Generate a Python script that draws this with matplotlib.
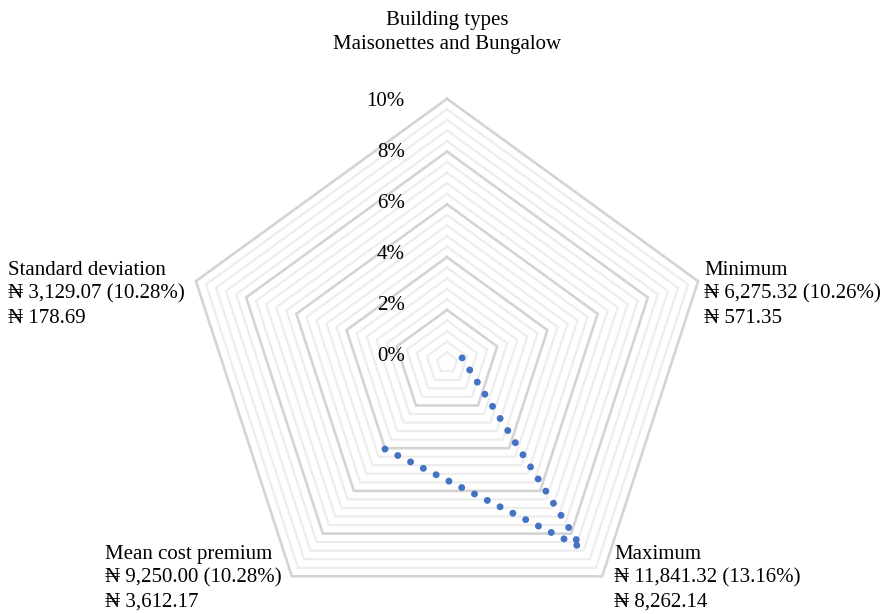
import numpy as np
import matplotlib
matplotlib.use("Agg")
import matplotlib.pyplot as plt

# ---- data ----
categories = ["Building types", "Minimum", "Maximum", "Mean cost premium", "Standard deviation"]
values = [np.nan, 0.60, 8.65, 4.03, np.nan]          # percent
major_ticks = [0, 2, 4, 6, 8, 10]
tick_labels = ["0%", "2%", "4%", "6%", "8%", "10%"]
minor_step = 0.4
label_texts = {
    "Building types": "Building types\nMaisonettes and Bungalow",
    "Minimum": "Minimum\n\u20a6 6,275.32 (10.26%)\n\u20a6 571.35",
    "Maximum": "Maximum\n\u20a6 11,841.32 (13.16%)\n\u20a6 8,262.14",
    "Mean cost premium": "Mean cost premium\n\u20a6 9,250.00 (10.28%)\n\u20a6 3,612.17",
    "Standard deviation": "Standard deviation\n\u20a6 3,129.07 (10.28%)\n\u20a6 178.69",
}

W, H = 887, 614
cx, cy = 447, 362.75      # centre in pixels
scale = 26.4              # pixels per percent

fig = plt.figure(figsize=(W / 100, H / 100), dpi=100)
ax = fig.add_axes([0, 0, 1, 1])
ax.set_xlim(-cx / scale, (W - cx) / scale)
ax.set_ylim(-(H - cy) / scale, cy / scale)
ax.axis("off")

fam = ["Liberation Serif", "DejaVu Serif"]
fs = 15

n = len(categories)
ang = np.deg2rad(90 - 72 * np.arange(n))
ux, uy = np.cos(ang), np.sin(ang)

def pent(r):
    x = np.append(ux * r, ux[0] * r)
    y = np.append(uy * r, uy[0] * r)
    return x, y

# minor grid
for r in np.arange(minor_step, 10 + 1e-9, minor_step):
    if abs(r / 2 - round(r / 2)) < 1e-6:
        continue
    x, y = pent(r)
    ax.plot(x, y, color="#EDEDED", lw=1.6, solid_joinstyle="miter", zorder=1)
# major grid
for r in major_ticks[1:]:
    x, y = pent(r)
    ax.plot(x, y, color="#D4D4D4", lw=1.9, solid_joinstyle="miter", zorder=2)

# radial tick labels
for v, t in zip(major_ticks, tick_labels):
    ly = 0.25 + v * 0.963
    ax.text(-1.6, ly, t, ha="right", va="center", fontsize=fs, family=fam, color="black")

# data series (dotted)
vals = np.array(values, dtype=float)
sx, sy = ux * vals, uy * vals
ax.plot(sx, sy, color="#4472C4", lw=5.0, linestyle=(0, (0.01, 2.05)),
        dash_capstyle="round", zorder=5)

# category labels (pixel positions converted)
def px(x, y):
    return (x - cx) / scale, (cy - y) / scale

pos = {
    "Building types": (px(447, 11), "center", "top"),
    "Minimum": (px(704, 261), "left", "top"),
    "Maximum": (px(614, 545), "left", "top"),
    "Mean cost premium": (px(105, 545), "left", "top"),
    "Standard deviation": (px(8, 261), "left", "top"),
}
for c in categories:
    (x, y), ha, va = pos[c]
    ax.text(x, y, label_texts[c], ha=ha, va=va, fontsize=fs, family=fam,
            linespacing=1.33, multialignment=ha)

fig.savefig("out.png", dpi=100)
